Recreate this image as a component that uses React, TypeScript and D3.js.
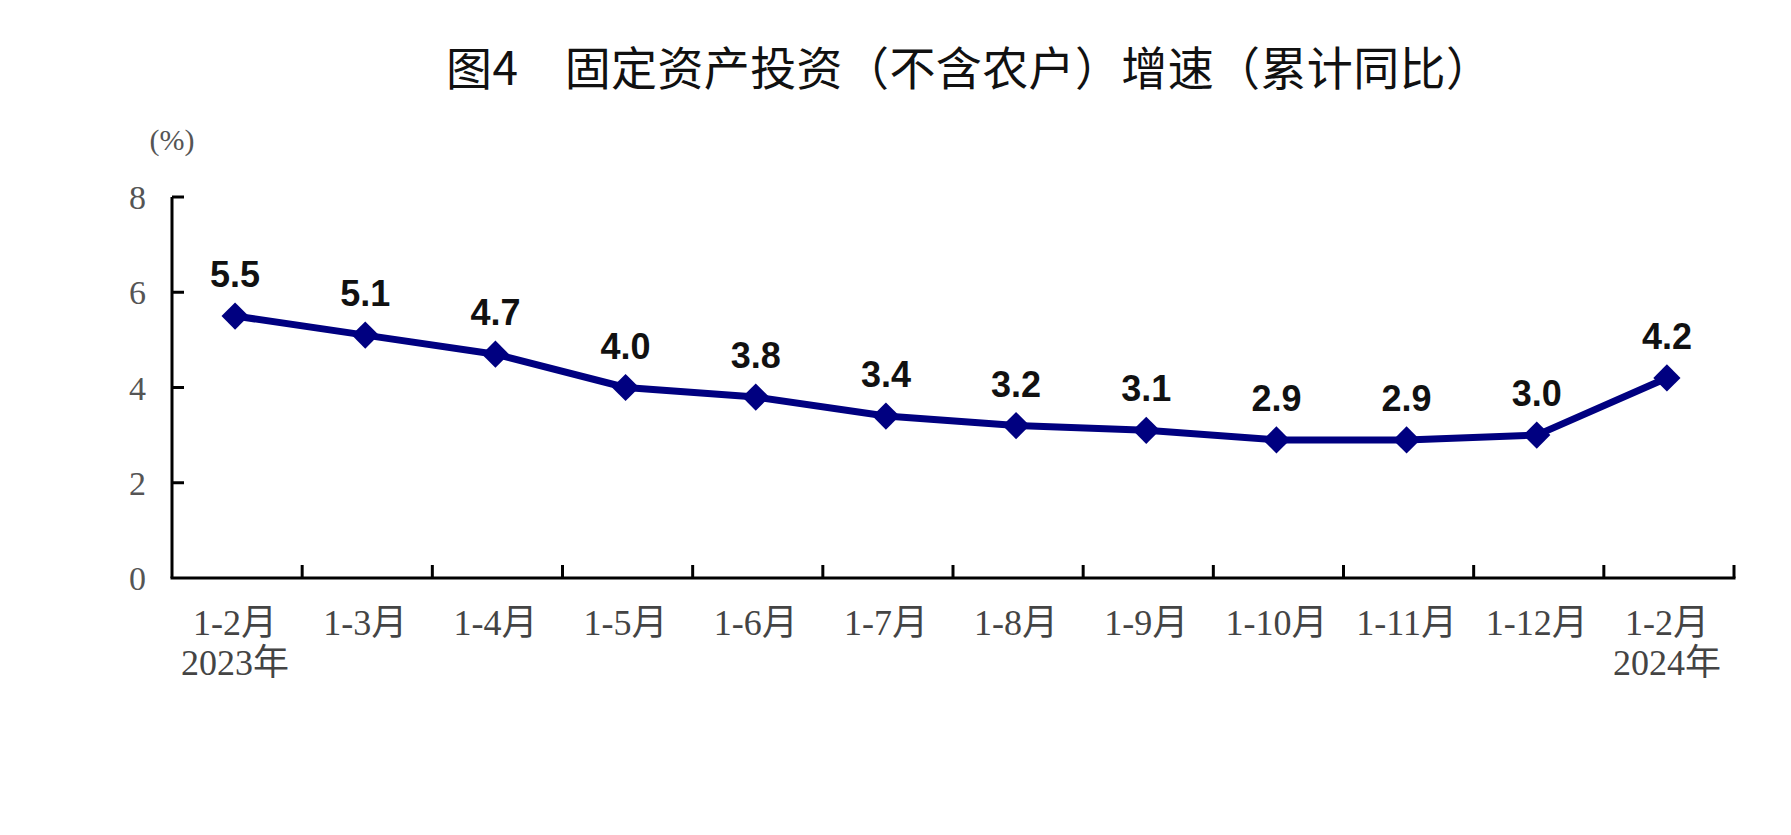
import React from "react";
import * as d3 from "d3";

const categories = ["1-2月", "1-3月", "1-4月", "1-5月", "1-6月", "1-7月", "1-8月", "1-9月", "1-10月", "1-11月", "1-12月", "1-2月"];
const yearLabels = ["2023年", "", "", "", "", "", "", "", "", "", "", "2024年"];
const values = [5.5, 5.1, 4.7, 4.0, 3.8, 3.4, 3.2, 3.1, 2.9, 2.9, 3.0, 4.2];
const yTicks = [0, 2, 4, 6, 8];
const title = "图4　固定资产投资（不含农户）增速（累计同比）";
const unitLabel = "(%)";

const W = 1791;
const H = 835;
const left = 172;
const right = 1734;
const top = 197;
const bottom = 578;

export default function App() {
  const idx = categories.map((_, i) => i);
  const x = d3.scaleBand<number>().domain(idx).range([left, right]).padding(0);
  const y = d3.scaleLinear().domain([0, 8]).range([bottom, top]);
  const cx = (i: number) => (x(i) as number) + x.bandwidth() / 2 - 2;

  const line = d3
    .line<number>()
    .x((_, i) => cx(i))
    .y((d) => y(d))
    .curve(d3.curveLinear);

  const diamond = d3.symbol().type(d3.symbolSquare).size(370)() as string;

  const serif = "'Liberation Serif', 'Times New Roman', 'Noto Sans CJK SC', serif";
  const boundaries = idx.map((i) => (x(i) as number) + x.bandwidth());

  return (
    <svg
      width={W}
      height={H}
      style={{ position: "absolute", left: 0, top: 0, background: "#fff" }}
    >
      <rect x={0} y={0} width={W} height={H} fill="#fff" />
      <text
        x={446}
        y={85}
        fontFamily="'Noto Sans CJK SC', sans-serif"
        fontSize={46}
        textLength={1046}
        lengthAdjust="spacing"
        fill="#111"
      >
        {title}
      </text>
      <text
        x={172}
        y={150}
        textAnchor="middle"
        fontFamily={serif}
        fontSize={30}
        fill="#555"
      >
        {unitLabel}
      </text>

      {/* y axis */}
      <line x1={left} x2={left} y1={top} y2={bottom} stroke="#000" strokeWidth={3} />
      {yTicks.map((t) => (
        <g key={t}>
          {t !== 0 && (
            <line x1={left} x2={left + 12} y1={y(t)} y2={y(t)} stroke="#000" strokeWidth={3} />
          )}
          <text
            x={146}
            y={y(t) + 12}
            textAnchor="end"
            fontFamily={serif}
            fontSize={34}
            fill="#555"
          >
            {t}
          </text>
        </g>
      ))}

      {/* x axis */}
      <line x1={left - 1.5} x2={right + 1.5} y1={bottom} y2={bottom} stroke="#000" strokeWidth={3} />
      {boundaries.map((bx, i) => (
        <line key={i} x1={bx} x2={bx} y1={bottom} y2={bottom - 13} stroke="#000" strokeWidth={3} />
      ))}
      {categories.map((c, i) => (
        <g key={i}>
          <text
            x={cx(i)}
            y={635}
            textAnchor="middle"
            fontFamily={serif}
            fontSize={36}
            fill="#444"
          >
            {c}
          </text>
          {yearLabels[i] && (
            <text
              x={cx(i)}
              y={675}
              textAnchor="middle"
              fontFamily={serif}
              fontSize={36}
              fill="#444"
            >
              {yearLabels[i]}
            </text>
          )}
        </g>
      ))}

      {/* line */}
      <path d={line(values) as string} fill="none" stroke="#000080" strokeWidth={7} strokeLinejoin="round" />
      {values.map((v, i) => (
        <path
          key={i}
          d={diamond}
          transform={`translate(${cx(i)},${y(v)}) rotate(45)`}
          fill="#000080"
        />
      ))}
      {values.map((v, i) => (
        <text
          key={i}
          x={cx(i)}
          y={y(v) - 29}
          textAnchor="middle"
          fontFamily="'Liberation Sans', Arial, sans-serif"
          fontWeight="bold"
          fontSize={36}
          fill="#111"
        >
          {v.toFixed(1)}
        </text>
      ))}
    </svg>
  );
}
